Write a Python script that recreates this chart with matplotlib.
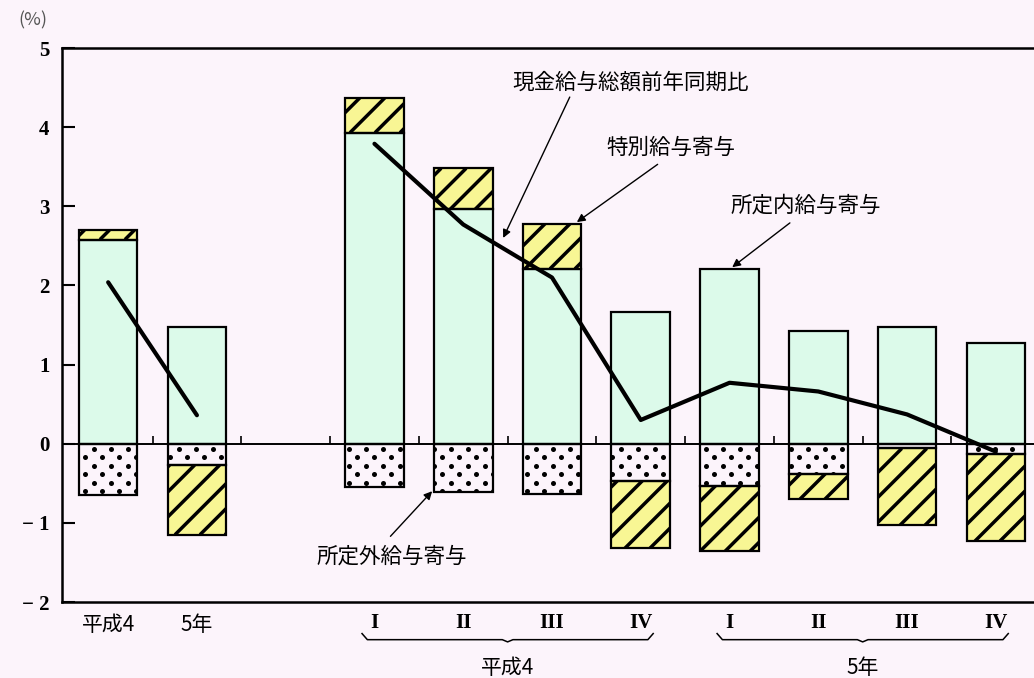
import numpy as np
import matplotlib.pyplot as plt
import matplotlib.transforms as mtransforms

plt.rcParams['font.family'] = ['Noto Sans CJK JP', 'DejaVu Sans']

# slot positions: two annual bars, a gap, then eight quarters
pos = [0, 1, 3, 4, 5, 6, 7, 8, 9, 10]
within = [2.58, 1.47, 3.93, 2.96, 2.21, 1.67, 2.21, 1.43, 1.48, 1.27]      # 所定内給与寄与
overtime = [-0.65, -0.27, -0.55, -0.61, -0.64, -0.47, -0.53, -0.38, -0.06, -0.13]  # 所定外給与寄与
special = [0.12, -0.88, 0.44, 0.52, 0.57, -0.85, -0.83, -0.32, -0.97, -1.10]  # 特別給与寄与
annual_pos = [0, 1]
annual_total = [2.04, 0.36]
quarter_pos = [3, 4, 5, 6, 7, 8, 9, 10]
quarter_total = [3.79, 2.77, 2.10, 0.30, 0.77, 0.66, 0.37, -0.10]

annual_labels = ['平成4', '5年']
quarter_labels = ['I', 'II', 'III', 'IV', 'I', 'II', 'III', 'IV']
year_labels = ['平成4', '5年']
yticks = [-2, -1, 0, 1, 2, 3, 4, 5]
ytick_labels = ['− 2', '− 1', '0', '1', '2', '3', '4', '5']

bg = '#fcf4fb'
green = '#dcfaea'
yellow = '#f8f694'
W = 0.66

fig = plt.figure(figsize=(10.34, 6.78), dpi=100, facecolor=bg)
ax = fig.add_axes([62 / 1034, 1 - 602 / 678, 1 - 62 / 1034, (602 - 48) / 678])
ax.set_facecolor(bg)
ax.set_xlim(-0.52, 10.43)
ax.set_ylim(-2, 5)

# stacked pieces
sp_bottom = [w if s > 0 else o for w, s, o in zip(within, special, overtime)]
green_bars = ax.bar(pos, within, W, color=green, zorder=2)
dot_bars = ax.bar(pos, overtime, W, color=bg, zorder=2)
hatch_bars = ax.bar(pos, special, W, bottom=sp_bottom, color=yellow, zorder=2)
for vals, bottom in [(within, 0), (overtime, 0), (special, sp_bottom)]:
    ax.bar(pos, vals, W, bottom=bottom, fill=False, edgecolor='black',
           linewidth=1.6, zorder=3)

inv = ax.transData.inverted()


def hatch_lines(patch, step=25, lw=2.5):
    bb = patch.get_window_extent()
    h = bb.height
    k0 = int(np.floor((bb.x0 - h) / step))
    k1 = int(np.ceil(bb.x1 / step))
    for k in range(k0, k1 + 1):
        c = k * step
        p = inv.transform([[c, bb.y0], [c + h, bb.y1]])
        ln, = ax.plot(p[:, 0], p[:, 1], color='black', lw=lw,
                      solid_capstyle='butt', zorder=2.5)
        ln.set_clip_path(patch)


def dots(patch, dx=17, dy=8.5, size=13):
    bb = patch.get_window_extent()
    pts = []
    j0 = int(np.floor(bb.y0 / dy)) - 1
    j1 = int(np.ceil(bb.y1 / dy)) + 1
    for j in range(j0, j1):
        off = (j % 2) * dx / 2
        i0 = int(np.floor((bb.x0 - off) / dx)) - 1
        i1 = int(np.ceil((bb.x1 - off) / dx)) + 1
        for i in range(i0, i1):
            pts.append((i * dx + off, j * dy))
    p = inv.transform(np.array(pts))
    sc = ax.scatter(p[:, 0], p[:, 1], s=size, color='black', lw=0, zorder=2.5)
    sc.set_clip_path(patch)


for patch in hatch_bars:
    hatch_lines(patch)
for patch in dot_bars:
    dots(patch)

# total wage growth lines
ax.plot(annual_pos, annual_total, color='black', lw=3, zorder=4,
        solid_capstyle='round')
ax.plot(quarter_pos, quarter_total, color='black', lw=3, zorder=4,
        solid_capstyle='round', solid_joinstyle='round')

# zero line with small separators
ax.axhline(0, color='black', lw=1.4, zorder=3.5)
ax.vlines(np.arange(0.5, 10, 1), 0, 0.1, color='black', lw=1.2, zorder=3.5)

for s in ['left', 'top', 'bottom']:
    ax.spines[s].set_linewidth(1.8)
ax.spines['right'].set_visible(False)
ax.set_xticks([])
ax.set_yticks(yticks)
ax.set_yticklabels(ytick_labels, family='Liberation Serif', fontweight='bold',
                   fontsize=15)
ax.tick_params(axis='y', direction='in', length=9, width=1.5, pad=9)

fig.text(33 / 1034, 1 - 20 / 678, '(%)', ha='center', va='center',
         fontsize=13, color='#555555')

# category labels below the axes
tr = mtransforms.blended_transform_factory(ax.transData, ax.transAxes)
for x, lab in zip(annual_pos, annual_labels):
    ax.text(x, -0.042, lab, transform=tr, ha='center', va='center',
            fontsize=15, clip_on=False)
for x, lab in zip(quarter_pos, quarter_labels):
    ax.text(x, -0.038, lab, transform=tr, ha='center', va='center',
            family='Liberation Serif', fontweight='bold', fontsize=15,
            clip_on=False)


def brace(x0, x1, y):
    xm = (x0 + x1) / 2
    xs = [x0, x0 + 0.06, xm - 0.06, xm, xm + 0.06, x1 - 0.06, x1]
    ys = [y + 0.011, y, y, y - 0.004, y, y, y + 0.011]
    ax.plot(xs, ys, transform=tr, color='black', lw=1.1, clip_on=False)


groups = [quarter_pos[:4], quarter_pos[4:]]
for grp, lab in zip(groups, year_labels):
    brace(grp[0] - 0.14, grp[-1] + 0.14, -0.068)
    ax.text((grp[0] + grp[-1]) / 2, -0.119, lab, transform=tr, ha='center',
            va='center', fontsize=15, clip_on=False)

# callouts
arrow = dict(arrowstyle='-|>', color='black', lw=1.0, mutation_scale=12,
             shrinkA=0, shrinkB=0)
notes = [
    ('現金給与総額前年同期比', (5.88, 4.56), (5.20, 4.38), (4.45, 2.60)),
    ('特別給与寄与', (6.34, 3.74), (6.19, 3.53), (5.28, 2.80)),
    ('所定内給与寄与', (7.86, 3.01), (7.68, 2.79), (7.03, 2.23)),
    ('所定外給与寄与', (3.19, -1.43), (3.18, -1.17), (3.65, -0.60)),
]
for txt, tpos, start, end in notes:
    ax.text(*tpos, txt, ha='center', va='center', fontsize=15.5, zorder=5)
    ax.annotate('', xy=end, xytext=start, arrowprops=arrow, zorder=5)

fig.savefig('out.png', dpi=100, facecolor=bg)
